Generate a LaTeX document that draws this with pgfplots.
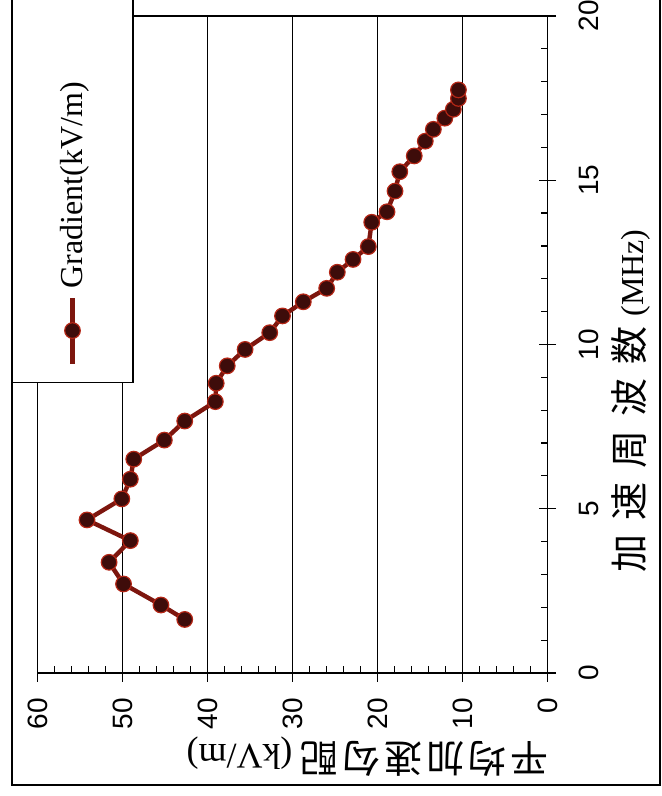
\documentclass[border=0pt]{standalone}
\usepackage{fontspec}
\setmainfont{Liberation Sans}
\newfontfamily\serif{Liberation Serif}
\newfontfamily\cjk{Noto Sans CJK JP}
\usepackage{pgfplots}
\usepackage{pgfplotstable}
\pgfplotsset{compat=1.18}

\definecolor{lineRed}{RGB}{125,22,14}
\definecolor{markFill}{RGB}{62,12,10}
\definecolor{markEdge}{RGB}{180,38,22}

\pgfplotstableread{
f g
1.63 42.7
2.07 45.5
2.71 49.9
3.37 51.6
4.03 49.1
4.66 54.2
5.30 50.1
5.90 49.1
6.51 48.7
7.09 45.1
7.67 42.7
8.26 39.1
8.82 39.0
9.35 37.7
9.85 35.6
10.36 32.7
10.87 31.2
11.30 28.75
11.71 26.0
12.20 24.75
12.59 22.9
12.98 21.1
13.72 20.7
14.04 18.9
14.67 17.96
15.26 17.4
15.74 15.7
16.19 14.4
16.55 13.45
16.89 12.1
17.16 11.1
17.49 10.5
17.75 10.5
}\gradtable

\begin{document}
\begin{tikzpicture}
\begin{axis}[
  at={(0,0)}, anchor=south west,
  scale only axis, width=255pt, height=328.5pt,
  xmin=0, xmax=60, ymin=0, ymax=20,
  x dir=reverse,
  xtick={0,10,...,60}, ytick={0,5,...,20},
  minor xtick={2,4,...,58}, minor ytick={1,...,19},
  xtick pos=bottom, ytick pos=right,
  xticklabel pos=bottom, yticklabel pos=right,
  tick align=inside,
  major tick length=8.5pt, minor tick length=3.5pt,
  major x tick style={yshift=-4.25pt},
  major y tick style={xshift=4.25pt},
  tick style={black, line width=0.6pt},
  axis line style={black, line width=0.8pt},
  xmajorgrids,
  grid style={black, line width=0.5pt},
  /pgf/number format/assume math mode=true,
  ticklabel style={font=\fontsize{14}{14}\selectfont},
  xticklabel style={yshift=-12.5pt, rotate=90, anchor=east, inner sep=0pt},
  yticklabel style={xshift=15.5pt, rotate=90, anchor=north, inner sep=0pt},
  xlabel={{\cjk 平\hspace{2pt}均\hspace{2pt}加\hspace{2pt}速\hspace{2pt}勾\hspace{2pt}配}\hspace{4pt}{\serif\fontsize{18}{18}\selectfont (kV/m)}},
  ylabel={{\cjk 加\hspace{7pt}速\hspace{7pt}周\hspace{7pt}波\hspace{7pt}数}\hspace{5pt}{\serif\fontsize{16}{16}\selectfont (MHz)}},
  every axis x label/.style={at={(axis description cs:0.6467,-0.1279)}, anchor=center, rotate=180, font=\fontsize{19}{19}\selectfont},
  every axis y label/.style={at={(axis description cs:1.163,0.414)}, anchor=center, rotate=90, font=\fontsize{19}{19}\selectfont},
  legend to name=gradleg,
  legend style={draw=black, line width=0.6pt, fill=white, inner xsep=8.5pt, inner ysep=0pt,
    minimum height=60.5pt, font=\serif\fontsize{16}{16}\selectfont,
    column sep=3.5pt, nodes={inner sep=0pt}},
  legend image code/.code={\draw[mark repeat=2,mark phase=2,#1] plot coordinates {(0pt,0pt) (16.5pt,0pt) (33pt,0pt)};},
]
\addplot[color=lineRed, line width=2.2pt, mark=*, mark size=3.9pt,
  mark options={fill=markFill, draw=markEdge, line width=0.6pt}]
  table[x=g, y=f] {\gradtable};
\addlegendentry{Gradient(kV/m)\hspace*{39pt}}
\end{axis}
\node[rotate=90, inner sep=0pt, anchor=center] at (17.4pt,244pt) {\pgfplotslegendfromname{gradleg}};
\draw[line width=0.6pt] (-12.85pt,345pt) -- (-12.85pt,-56pt) -- (311.15pt,-56pt) -- (311.15pt,345pt);
\pgfresetboundingbox
\path[use as bounding box] (-18.85pt,-61.5pt) rectangle (312.15pt,336.5pt);
\end{tikzpicture}
\end{document}
